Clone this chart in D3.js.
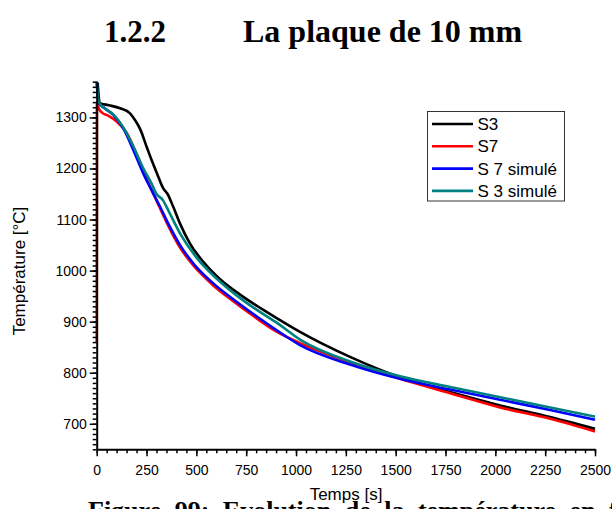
<!DOCTYPE html>
<head>
<meta charset="utf-8">
<style>
  body { margin:0; background:#fff; }
  svg { display:block; }
  .axis path, .axis line { stroke:#000; }
  .axis text { font-family:"Liberation Sans", Arial, sans-serif; font-size:14px; fill:#000; }
  .lab { font-family:"Liberation Sans", Arial, sans-serif; font-size:17px; fill:#000; }
  .ser { fill:none; stroke-width:2.6px; stroke-linejoin:round; }
  .head { font-family:"Liberation Serif", "Times New Roman", serif; font-weight:bold; fill:#000; }
</style>
</head>
<body>
<script src="https://d3js.org/d3.v7.min.js"></script>
<script>

var width = 612,
    height = 509;

// lectures sur la figure (temps en s, temperature en °C)
var s3Time   = [5, 15, 60, 117, 167, 192, 217, 251, 276, 309, 334, 354, 384, 418, 468, 535, 619, 719, 820, 903, 1020, 1271, 1522, 1773, 2024, 2275, 2500];
var s3Temp   = [1368, 1328, 1324, 1318, 1308, 1295, 1278, 1242, 1216, 1184, 1161, 1151, 1125, 1092, 1053, 1017, 983, 953, 927, 907, 880, 831, 791, 762, 736, 713, 690];

var s7Time   = [0, 1, 10, 25, 60, 100, 150, 200, 250, 300, 350, 418, 485, 585, 685, 786, 900, 1020, 1271, 1522, 1773, 2024, 2275, 2500];
var s7Temp   = [860, 1330, 1318, 1310, 1303, 1292, 1270, 1228, 1180, 1137, 1095, 1045, 1010, 971, 940, 911, 881, 858, 820, 788, 760, 732, 710, 685];

var s7simTime = [0, 10, 40, 83, 134, 184, 234, 276, 318, 368, 418, 485, 585, 685, 786, 900, 1020, 1271, 1522, 1773, 2024, 2275, 2500];
var s7simTemp = [1370, 1328, 1318, 1305, 1278, 1236, 1190, 1157, 1125, 1085, 1050, 1014, 975, 944, 915, 884, 854, 816, 788, 767, 747, 727, 708];

var s3simTime = [0, 10, 40, 83, 134, 184, 234, 276, 298, 332, 359, 418, 502, 600, 700, 800, 900, 1020, 1271, 1522, 1773, 2024, 2275, 2500];
var s3simTemp = [1370, 1330, 1318, 1306, 1280, 1243, 1200, 1170, 1151, 1138, 1118, 1073, 1025, 985, 952, 924, 899, 865, 822, 793, 772, 752, 732, 714];

var seriesNames  = ["S3", "S7", "S 7 simulé", "S 3 simulé"];
var seriesColors = ["#000000", "#ff0000", "#0000ff", "#008080"];

var xTicks = d3.range(0, 2501, 250);
var yTicks = [700, 800, 900, 1000, 1100, 1200, 1300];

var series = [
  {name: seriesNames[0], color: seriesColors[0], t: s3Time,    v: s3Temp},
  {name: seriesNames[1], color: seriesColors[1], t: s7Time,    v: s7Temp},
  {name: seriesNames[2], color: seriesColors[2], t: s7simTime, v: s7simTemp},
  {name: seriesNames[3], color: seriesColors[3], t: s3simTime, v: s3simTemp}
];

var x = d3.scaleLinear().domain([0, 2500]).range([96.7, 595]);
var y = d3.scaleLinear().domain([650, 1370]).range([449.3, 81.7]);

var svg = d3.select("body").append("svg")
    .attr("width", width)
    .attr("height", height);

// titre de section
svg.append("text").attr("class", "head")
    .attr("x", 104).attr("y", 42).style("font-size", "31px")
    .text("1.2.2");
svg.append("text").attr("class", "head")
    .attr("x", 243).attr("y", 42).style("font-size", "32px")
    .text("La plaque de 10 mm");

var line = d3.line()
    .x(function(d) { return x(d[0]); })
    .y(function(d) { return y(d[1]); })
    .curve(d3.curveMonotoneX);

svg.selectAll(".ser")
    .data(series).enter()
    .append("path")
    .attr("class", "ser")
    .attr("stroke", function(d) { return d.color; })
    .attr("d", function(d) { return line(d.t.map(function(t, i) { return [t, d.v[i]]; })); });

// axes : mineures puis majeures
svg.append("g").attr("class", "axis")
    .attr("transform", "translate(0," + y(650) + ")")
    .call(d3.axisBottom(x).tickValues(d3.range(0, 2501, 50)).tickSize(4).tickFormat(""))
    .call(function(g) { g.selectAll("line").attr("stroke-width", 1.5); g.select(".domain").remove(); });

svg.append("g").attr("class", "axis")
    .attr("transform", "translate(0," + y(650) + ")")
    .call(d3.axisBottom(x).tickValues(xTicks).tickSize(7).tickSizeOuter(0).tickPadding(9).tickFormat(d3.format("d")))
    .call(function(g) { g.selectAll("line").attr("stroke-width", 1.5); g.select(".domain").attr("stroke-width", 2); });

svg.append("g").attr("class", "axis")
    .attr("transform", "translate(" + x(0) + ",0)")
    .call(d3.axisLeft(y).tickValues(d3.range(650, 1371, 10)).tickSize(4).tickFormat(""))
    .call(function(g) { g.selectAll("line").attr("stroke-width", 1.5); g.select(".domain").remove(); });

svg.append("g").attr("class", "axis")
    .attr("transform", "translate(" + x(0) + ",0)")
    .call(d3.axisLeft(y).tickValues(yTicks).tickSize(7).tickSizeOuter(0).tickPadding(3).tickFormat(d3.format("d")))
    .call(function(g) { g.selectAll("line").attr("stroke-width", 1.5); g.select(".domain").attr("stroke-width", 2); });

// titres des axes
svg.append("text").attr("class", "lab")
    .attr("text-anchor", "middle")
    .attr("transform", "translate(25,271) rotate(-90)")
    .text("Température [°C]");

// legende de la figure (coupee par le bas), sous le titre d'axe
svg.append("text").attr("class", "head")
    .attr("x", 88).attr("y", 519).style("font-size", "26px")
    .style("word-spacing", "7px")
    .text("Figure 99: Evolution de la température en fonction du temps");

svg.append("text").attr("class", "lab")
    .attr("text-anchor", "middle")
    .attr("x", 346).attr("y", 500)
    .text("Temps [s]");

// legende
var leg = svg.append("g").attr("transform", "translate(427.5,111.5)");
leg.append("rect")
    .attr("width", 137).attr("height", 89.5)
    .attr("fill", "#fff").attr("stroke", "#333").attr("stroke-width", 1);

var items = leg.selectAll(".item")
    .data(series).enter()
    .append("g")
    .attr("transform", function(d, i) { return "translate(0," + (12.5 + i * 22.3) + ")"; });
items.append("line")
    .attr("x1", 4.5).attr("x2", 45.5)
    .attr("stroke", function(d) { return d.color; })
    .attr("stroke-width", 2.6);
items.append("text").attr("class", "lab")
    .attr("x", 50).attr("dy", "0.35em")
    .text(function(d) { return d.name; });

</script>
